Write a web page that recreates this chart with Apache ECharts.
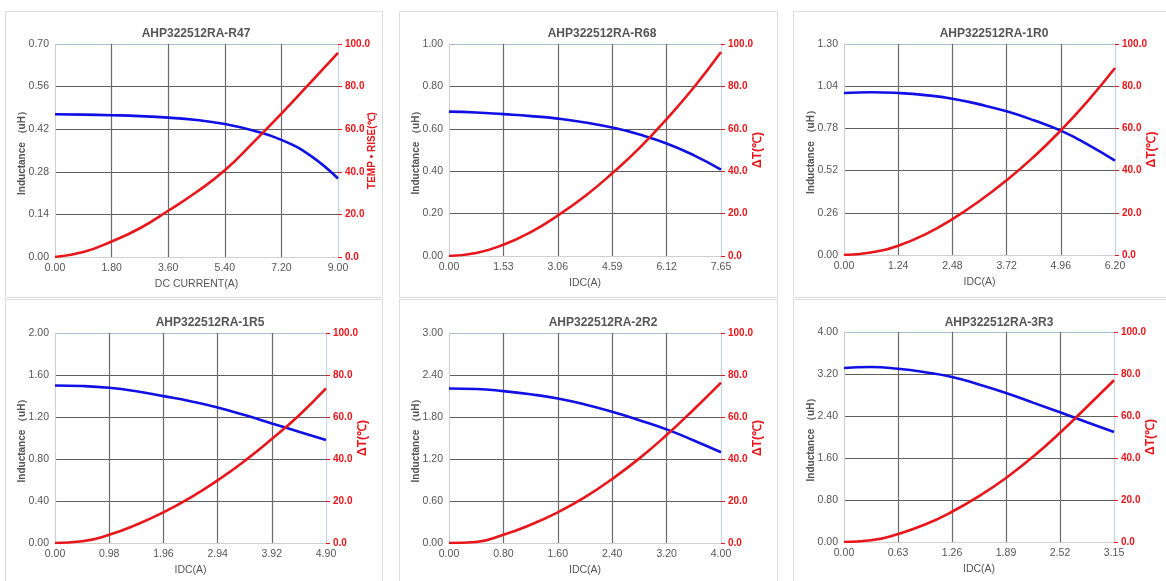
<!DOCTYPE html>
<html><head><meta charset="utf-8">
<script src="https://cdn.jsdelivr.net/npm/echarts@6/dist/echarts.min.js"></script>
<style>html,body{margin:0;padding:0;background:#fff}#c{width:1166px;height:581px}</style>
</head><body><div id="c"></div>
<script>
// ---- data ----
const titles = ['AHP322512RA-R47','AHP322512RA-R68','AHP322512RA-1R0','AHP322512RA-1R5','AHP322512RA-2R2','AHP322512RA-3R3'];
const xNames = ['DC CURRENT(A)','IDC(A)','IDC(A)','IDC(A)','IDC(A)','IDC(A)'];
const rNames = ['TEMP • RISE(℃)','ΔT(℃)','ΔT(℃)','ΔT(℃)','ΔT(℃)','ΔT(℃)'];
const lName = 'Inductance （uH）';
const xMax  = [9, 7.65, 6.2, 4.9, 4.0, 3.15];
const xStep = [1.8, 1.53, 1.24, 0.98, 0.8, 0.63];
const lMax  = [0.7, 1.0, 1.3, 2.0, 3.0, 4.0];
const lStep = [0.14, 0.2, 0.26, 0.4, 0.6, 0.8];
const rMax = 100, rStep = 20;

const x_R47 = [0,0.9,1.8,2.7,3.6,4.5,5.4,6.3,7.2,8.1,9];
const L_R47 = [0.469,0.468,0.466,0.463,0.458,0.450,0.437,0.416,0.385,0.335,0.258];
const T_R47 = [0,2.3,7.3,13.5,21.7,30.5,40.7,53.7,67.3,81.5,95.8];

const x_R68 = [0,0.765,1.53,2.3,3.06,3.83,4.59,5.36,6.12,6.89,7.65];
const L_R68 = [0.681,0.677,0.669,0.66,0.648,0.63,0.606,0.573,0.531,0.475,0.408];
const T_R68 = [0,1.4,5.3,11.3,19.1,28.3,39.0,51.0,64.6,79.6,96.2];

const x_1R0 = [0,0.62,1.24,1.86,2.48,3.1,3.72,4.34,4.96,5.58,6.2];
const L_1R0 = [0.998,1.003,0.998,0.985,0.963,0.928,0.885,0.83,0.766,0.68,0.581];
const T_1R0 = [0,1.2,4.4,9.8,17.0,25.6,35.4,46.5,59.0,73.0,88.6];

const x_1R5 = [0,0.49,0.98,1.47,1.96,2.45,2.94,3.43,3.92,4.41,4.9];
const L_1R5 = [1.5,1.495,1.478,1.445,1.399,1.35,1.291,1.218,1.139,1.06,0.981];
const T_1R5 = [0,0.8,3.9,8.7,14.6,21.6,29.8,39.1,49.5,60.7,73.6];

const x_2R2 = [0,0.4,0.8,1.2,1.6,2.0,2.4,2.8,3.2,3.6,4.0];
const L_2R2 = [2.207,2.2,2.17,2.125,2.065,1.98,1.875,1.755,1.623,1.465,1.296];
const T_2R2 = [0,0.5,3.9,8.7,14.6,21.8,30.5,40.3,51.4,63.6,76.4];

const x_3R3 = [0,0.315,0.63,0.945,1.26,1.575,1.89,2.205,2.52,2.835,3.15];
const L_3R3 = [3.314,3.333,3.30,3.235,3.143,3.0,2.838,2.655,2.47,2.28,2.095];
const T_3R3 = [0,0.8,3.8,8.3,14.4,21.8,30.5,40.6,52.0,64.4,77];

const xs = [x_R47,x_R68,x_1R0,x_1R5,x_2R2,x_3R3];
const Ls = [L_R47,L_R68,L_1R0,L_1R5,L_2R2,L_3R3];
const Ts = [T_R47,T_R68,T_1R0,T_1R5,T_2R2,T_3R3];

// ---- layout ----
const grids = [
  {left:55, top:44, width:283, height:213},
  {left:449, top:44, width:272, height:212},
  {left:844, top:44, width:271, height:211},
  {left:55, top:333, width:271, height:210},
  {left:449, top:333, width:272, height:210},
  {left:844, top:332, width:270, height:210}
];
const titleX = [191, 597, 989, 205, 598, 994];
const titleY = [23, 23, 23, 312, 312, 312];
const cards = [
  [5,11,377,286],[399,11,378,286],[793,11,380,286],
  [5,299,377,290],[399,299,378,290],[793,299,380,290]
];

const FONT = 'Liberation Sans, Arial, sans-serif';
const GRAY = '#555';
const RED = '#e8161b';
const BLUE = '#1010e6';

const option = {
  animation:false,
  backgroundColor:'#fff',
  title:[], grid:[], xAxis:[], yAxis:[], series:[],
  graphic: cards.map(c => ({type:'rect', shape:{x:c[0]+0.5,y:c[1]+0.5,width:c[2],height:c[3]}, style:{fill:'none', stroke:'#dcdcdc', lineWidth:1}, z:-10}))
};

for (let i=0;i<6;i++){
  const nL = Math.round(lMax[i]/lStep[i]);
  const nX = Math.round(xMax[i]/xStep[i]);
  const hColors = []; for (let k=0;k<=nL;k++) hColors.push(k===0?'#cfcfcf':(k===nL?'#a9c0d6':'#5e5e5e'));
  const vColors = []; for (let k=0;k<=nX;k++) vColors.push(k===0?'#cfcfcf':(k===nX?'#c6d3e0':'#6a6a6a'));
  option.title.push({text:titles[i], left:titleX[i], top:titleY[i], textAlign:'center',
    textStyle:{fontFamily:FONT, fontSize:12, fontWeight:'bold', color:GRAY}});
  option.grid.push(Object.assign({containLabel:false}, grids[i]));
  option.xAxis.push({type:'value', gridIndex:i, min:0, max:xMax[i], interval:xStep[i],
    name:xNames[i], nameLocation:'middle', nameGap:22, nameMoveOverlap:false,
    nameTextStyle:{fontFamily:FONT, fontSize:10.5, color:GRAY},
    axisLine:{show:true, lineStyle:{color:'#cfcfcf'}}, axisTick:{show:false},
    axisLabel:{fontFamily:FONT, fontSize:10.5, color:GRAY, margin:6, formatter:v=>v.toFixed(2)},
    splitLine:{show:true, lineStyle:{color:vColors, width:1.2}}});
  option.yAxis.push({type:'value', gridIndex:i, position:'left', min:0, max:lMax[i], interval:lStep[i],
    name:lName, nameLocation:'middle', nameGap:28, nameRotate:90, nameMoveOverlap:false,
    nameTextStyle:{fontFamily:FONT, fontSize:10, fontWeight:'bold', color:GRAY},
    axisLine:{show:true, lineStyle:{color:'#cfcfcf'}}, axisTick:{show:false},
    axisLabel:{fontFamily:FONT, fontSize:10.5, color:GRAY, margin:6, formatter:v=>v.toFixed(2)},
    splitLine:{show:true, lineStyle:{color:hColors, width:1.2}}});
  option.yAxis.push({type:'value', gridIndex:i, position:'right', min:0, max:rMax, interval:rStep,
    name:rNames[i], nameLocation:'middle', nameGap:i===0?29:31, nameRotate:90, nameMoveOverlap:false,
    nameTextStyle:{fontFamily:FONT, fontSize:i===0?10:12, fontWeight:'bold', color:RED},
    axisLine:{show:true, lineStyle:{color:'#c6d3e0'}},
    axisTick:{show:true, length:4, lineStyle:{color:RED}},
    axisLabel:{fontFamily:FONT, fontSize:10, fontWeight:'bold', color:RED, margin:7, formatter:v=>v.toFixed(1)},
    splitLine:{show:false}});
  option.series.push({type:'line', xAxisIndex:i, yAxisIndex:2*i, smooth:0.5, symbol:'none',
    lineStyle:{color:BLUE, width:2.6}, data: xs[i].map((x,k)=>[x, Ls[i][k]])});
  option.series.push({type:'line', xAxisIndex:i, yAxisIndex:2*i+1, smooth:0.5, symbol:'none',
    lineStyle:{color:RED, width:2.6}, data: xs[i].map((x,k)=>[x, Ts[i][k]])});
}

const chart = echarts.init(document.getElementById('c'), null, {renderer:'canvas'});
chart.setOption(option);
</script></body></html>
